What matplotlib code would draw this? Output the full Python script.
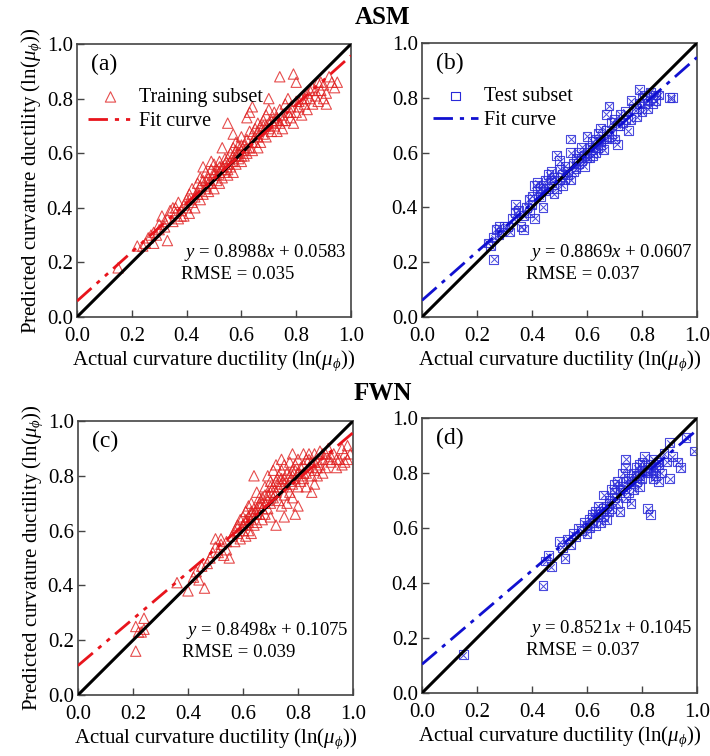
import numpy as np
import matplotlib
matplotlib.use('Agg')
import matplotlib.pyplot as plt

plt.rcParams['font.family'] = ['Liberation Serif', 'DejaVu Serif']
plt.rcParams['mathtext.fontset'] = 'custom'
plt.rcParams['mathtext.rm'] = 'Liberation Serif'
plt.rcParams['mathtext.it'] = 'Liberation Serif:italic'

# ASM, training subset (a)
asm_train_x = [0.15, 0.22, 0.24, 0.25, 0.26, 0.27, 0.28, 0.28, 0.29, 0.30, 0.31, 0.32, 0.33, 0.33, 0.34,
               0.35, 0.35, 0.36, 0.37, 0.37, 0.38, 0.39, 0.39, 0.40, 0.40, 0.41, 0.41, 0.42, 0.42, 0.43,
               0.43, 0.44, 0.44, 0.45, 0.45, 0.46, 0.46, 0.47, 0.47, 0.47, 0.48, 0.48, 0.49, 0.49, 0.50,
               0.50, 0.50, 0.51, 0.51, 0.52, 0.52, 0.52, 0.53, 0.53, 0.54, 0.54, 0.55, 0.55, 0.55, 0.56,
               0.56, 0.57, 0.57, 0.57, 0.58, 0.58, 0.59, 0.59, 0.60, 0.60, 0.60, 0.61, 0.61, 0.62, 0.62,
               0.63, 0.63, 0.64, 0.64, 0.64, 0.65, 0.65, 0.66, 0.66, 0.67, 0.67, 0.68, 0.68, 0.69, 0.69,
               0.70, 0.70, 0.71, 0.71, 0.72, 0.72, 0.73, 0.73, 0.74, 0.74, 0.74, 0.75, 0.75, 0.76, 0.76,
               0.77, 0.77, 0.78, 0.78, 0.79, 0.79, 0.80, 0.80, 0.80, 0.81, 0.82, 0.82, 0.83, 0.84, 0.84,
               0.85, 0.86, 0.86, 0.87, 0.88, 0.88, 0.89, 0.90, 0.90, 0.91, 0.91, 0.92, 0.93, 0.94, 0.95,
               0.53, 0.57, 0.62, 0.49, 0.45, 0.58, 0.66, 0.70,
               0.30, 0.32, 0.36, 0.38, 0.41, 0.44, 0.46, 0.48, 0.50, 0.51, 0.52, 0.53, 0.54, 0.55, 0.56,
               0.57, 0.58, 0.59, 0.60, 0.61, 0.62, 0.63, 0.65, 0.66, 0.68, 0.70, 0.72, 0.75, 0.78, 0.81,
               0.83, 0.85, 0.87, 0.89, 0.47, 0.55, 0.60, 0.64, 0.69, 0.73]
asm_train_y = [0.18, 0.26, 0.26, 0.27, 0.29, 0.30, 0.27, 0.31, 0.30, 0.34, 0.37, 0.33, 0.28, 0.36, 0.39,
               0.35, 0.40, 0.38, 0.36, 0.42, 0.39, 0.41, 0.37, 0.43, 0.40, 0.45, 0.38, 0.42, 0.47, 0.44,
               0.40, 0.46, 0.49, 0.43, 0.48, 0.55, 0.45, 0.50, 0.47, 0.53, 0.46, 0.51, 0.49, 0.54, 0.52,
               0.47, 0.56, 0.50, 0.54, 0.53, 0.57, 0.49, 0.55, 0.51, 0.58, 0.53, 0.56, 0.71, 0.52, 0.60,
               0.55, 0.57, 0.62, 0.53, 0.59, 0.56, 0.63, 0.58, 0.61, 0.57, 0.66, 0.63, 0.59, 0.65, 0.60,
               0.75, 0.62, 0.67, 0.61, 0.77, 0.64, 0.69, 0.66, 0.62, 0.70, 0.64, 0.67, 0.72, 0.66, 0.74,
               0.80, 0.69, 0.72, 0.68, 0.75, 0.70, 0.73, 0.68, 0.88, 0.76, 0.71, 0.74, 0.69, 0.78, 0.72,
               0.75, 0.80, 0.73, 0.77, 0.89, 0.71, 0.86, 0.79, 0.75, 0.77, 0.80, 0.74, 0.78, 0.82, 0.76,
               0.80, 0.84, 0.78, 0.81, 0.86, 0.79, 0.83, 0.85, 0.80, 0.78, 0.82, 0.88, 0.86, 0.84, 0.86,
               0.62, 0.67, 0.73, 0.57, 0.51, 0.64, 0.71, 0.76,
               0.32, 0.35, 0.40, 0.37, 0.43, 0.45, 0.50, 0.49, 0.53, 0.52, 0.55, 0.54, 0.56, 0.54, 0.57,
               0.59, 0.61, 0.60, 0.63, 0.61, 0.62, 0.68, 0.66, 0.68, 0.70, 0.71, 0.72, 0.72, 0.75, 0.79,
               0.80, 0.83, 0.83, 0.86, 0.48, 0.58, 0.59, 0.64, 0.70, 0.72]

# ASM, test subset (b)
asm_test_x = [0.24, 0.25, 0.26, 0.26, 0.27, 0.28, 0.28, 0.29, 0.30, 0.31, 0.32, 0.33, 0.34, 0.34, 0.35,
              0.36, 0.37, 0.37, 0.38, 0.39, 0.39, 0.40, 0.40, 0.41, 0.41, 0.42, 0.42, 0.43, 0.44, 0.44,
              0.45, 0.45, 0.46, 0.46, 0.47, 0.47, 0.48, 0.48, 0.49, 0.49, 0.50, 0.50, 0.51, 0.51, 0.52,
              0.52, 0.53, 0.54, 0.54, 0.54, 0.55, 0.55, 0.56, 0.56, 0.57, 0.57, 0.58, 0.58, 0.59, 0.59,
              0.60, 0.60, 0.61, 0.61, 0.62, 0.62, 0.63, 0.63, 0.64, 0.64, 0.65, 0.65, 0.66, 0.66, 0.67,
              0.67, 0.68, 0.68, 0.69, 0.70, 0.70, 0.71, 0.72, 0.72, 0.73, 0.74, 0.75, 0.76, 0.76, 0.77,
              0.78, 0.79, 0.79, 0.80, 0.80, 0.81, 0.82, 0.82, 0.83, 0.84, 0.85, 0.86, 0.90, 0.91,
              0.43, 0.47, 0.50, 0.53, 0.56, 0.58, 0.60, 0.62, 0.63, 0.65, 0.67, 0.69, 0.71, 0.74, 0.78,
              0.81, 0.84, 0.85]
asm_test_y = [0.27, 0.26, 0.21, 0.29, 0.32, 0.33, 0.30, 0.31, 0.33, 0.33, 0.31, 0.36, 0.41, 0.38, 0.39,
              0.33, 0.32, 0.37, 0.40, 0.43, 0.38, 0.44, 0.41, 0.48, 0.36, 0.46, 0.49, 0.44, 0.40, 0.48,
              0.46, 0.50, 0.47, 0.52, 0.53, 0.49, 0.45, 0.51, 0.59, 0.47, 0.57, 0.50, 0.52, 0.48, 0.55,
              0.50, 0.53, 0.65, 0.60, 0.50, 0.56, 0.53, 0.58, 0.54, 0.60, 0.56, 0.57, 0.62, 0.59, 0.55,
              0.66, 0.60, 0.58, 0.62, 0.61, 0.64, 0.65, 0.60, 0.62, 0.67, 0.63, 0.69, 0.65, 0.61, 0.74,
              0.68, 0.77, 0.66, 0.71, 0.65, 0.72, 0.63, 0.74, 0.70, 0.71, 0.75, 0.68, 0.79, 0.72, 0.76,
              0.73, 0.83, 0.78, 0.75, 0.80, 0.81, 0.79, 0.76, 0.82, 0.80, 0.81, 0.81, 0.80, 0.80,
              0.47, 0.50, 0.54, 0.52, 0.55, 0.58, 0.58, 0.59, 0.62, 0.64, 0.65, 0.67, 0.70, 0.72, 0.76,
              0.78, 0.78, 0.79]

# FWN, training subset (c)
fwn_train_x = [0.21, 0.21, 0.22, 0.23, 0.24, 0.24, 0.36, 0.40, 0.42, 0.43, 0.44, 0.45, 0.46, 0.47, 0.48,
               0.49, 0.50, 0.50, 0.51, 0.52, 0.52, 0.53, 0.54, 0.54, 0.55, 0.56, 0.57, 0.57, 0.58, 0.58,
               0.59, 0.59, 0.60, 0.60, 0.60, 0.61, 0.61, 0.61, 0.62, 0.62, 0.62, 0.63, 0.63, 0.63, 0.64,
               0.64, 0.64, 0.65, 0.65, 0.65, 0.66, 0.66, 0.67, 0.67, 0.67, 0.68, 0.68, 0.68, 0.69, 0.69,
               0.69, 0.70, 0.70, 0.70, 0.70, 0.71, 0.71, 0.71, 0.72, 0.72, 0.72, 0.72, 0.73, 0.73, 0.73,
               0.74, 0.74, 0.74, 0.74, 0.75, 0.75, 0.75, 0.75, 0.76, 0.76, 0.76, 0.77, 0.77, 0.77, 0.78,
               0.78, 0.78, 0.78, 0.79, 0.79, 0.79, 0.80, 0.80, 0.80, 0.80, 0.81, 0.81, 0.82, 0.82, 0.82,
               0.83, 0.83, 0.83, 0.84, 0.84, 0.85, 0.85, 0.85, 0.86, 0.86, 0.86, 0.87, 0.87, 0.88, 0.88,
               0.89, 0.89, 0.90, 0.90, 0.91, 0.91, 0.92, 0.93, 0.94, 0.95, 0.96, 0.96, 0.97, 0.98, 0.98,
               0.99,
               0.58, 0.60, 0.61, 0.62, 0.63, 0.64, 0.65, 0.66, 0.67, 0.68, 0.69, 0.71, 0.73, 0.75, 0.77,
               0.79, 0.81, 0.84, 0.87, 0.89, 0.92, 0.94, 0.97, 0.63, 0.66, 0.70, 0.74, 0.78, 0.82, 0.86]
fwn_train_y = [0.25, 0.16, 0.23, 0.23, 0.28, 0.24, 0.41, 0.38, 0.43, 0.45, 0.42, 0.47, 0.39, 0.48, 0.50,
               0.52, 0.54, 0.57, 0.52, 0.55, 0.57, 0.51, 0.53, 0.56, 0.50, 0.58, 0.60, 0.56, 0.62, 0.59,
               0.57, 0.64, 0.60, 0.65, 0.62, 0.58, 0.67, 0.63, 0.60, 0.69, 0.65, 0.64, 0.59, 0.70, 0.80,
               0.66, 0.62, 0.74, 0.68, 0.63, 0.70, 0.66, 0.72, 0.68, 0.64, 0.76, 0.70, 0.66, 0.80, 0.73,
               0.68, 0.78, 0.74, 0.70, 0.65, 0.82, 0.76, 0.72, 0.84, 0.78, 0.74, 0.62, 0.80, 0.76, 0.71,
               0.86, 0.82, 0.77, 0.69, 0.84, 0.79, 0.73, 0.65, 0.81, 0.76, 0.70, 0.85, 0.80, 0.74, 0.88,
               0.82, 0.77, 0.72, 0.84, 0.79, 0.66, 0.86, 0.81, 0.76, 0.69, 0.83, 0.78, 0.88, 0.84, 0.79,
               0.86, 0.81, 0.76, 0.88, 0.83, 0.85, 0.80, 0.74, 0.88, 0.82, 0.77, 0.85, 0.80, 0.89, 0.84,
               0.86, 0.81, 0.88, 0.83, 0.86, 0.90, 0.85, 0.88, 0.83, 0.86, 0.90, 0.84, 0.88, 0.91, 0.86,
               0.88,
               0.61, 0.62, 0.64, 0.63, 0.67, 0.68, 0.66, 0.69, 0.70, 0.73, 0.71, 0.74, 0.78, 0.77, 0.78,
               0.82, 0.80, 0.86, 0.83, 0.88, 0.87, 0.86, 0.85, 0.66, 0.72, 0.76, 0.79, 0.80, 0.81, 0.85]

# FWN, test subset (d)
fwn_test_x = [0.15, 0.44, 0.45, 0.46, 0.47, 0.50, 0.51, 0.52, 0.53, 0.54, 0.55, 0.56, 0.57, 0.58, 0.59,
              0.60, 0.60, 0.61, 0.61, 0.62, 0.62, 0.63, 0.63, 0.64, 0.64, 0.65, 0.65, 0.66, 0.66, 0.67,
              0.67, 0.68, 0.68, 0.69, 0.69, 0.70, 0.70, 0.71, 0.71, 0.72, 0.72, 0.73, 0.73, 0.74, 0.74,
              0.74, 0.75, 0.75, 0.76, 0.76, 0.77, 0.77, 0.78, 0.78, 0.79, 0.79, 0.80, 0.80, 0.81, 0.81,
              0.82, 0.82, 0.83, 0.83, 0.84, 0.84, 0.85, 0.85, 0.86, 0.86, 0.87, 0.88, 0.89, 0.90, 0.90,
              0.91, 0.93, 0.94, 0.96, 0.99,
              0.62, 0.64, 0.66, 0.68, 0.70, 0.72, 0.74, 0.76, 0.78, 0.80, 0.82, 0.84, 0.86, 0.79, 0.83]
fwn_test_y = [0.14, 0.39, 0.48, 0.50, 0.46, 0.55, 0.53, 0.49, 0.56, 0.54, 0.58, 0.57, 0.60, 0.59, 0.62,
              0.61, 0.58, 0.63, 0.60, 0.65, 0.62, 0.66, 0.61, 0.64, 0.68, 0.62, 0.66, 0.72, 0.64, 0.68,
              0.63, 0.70, 0.66, 0.74, 0.67, 0.71, 0.76, 0.69, 0.77, 0.73, 0.66, 0.80, 0.75, 0.85, 0.82,
              0.71, 0.78, 0.73, 0.76, 0.69, 0.80, 0.74, 0.77, 0.82, 0.79, 0.75, 0.84, 0.78, 0.81, 0.86,
              0.80, 0.67, 0.83, 0.65, 0.78, 0.85, 0.82, 0.79, 0.77, 0.84, 0.80, 0.87, 0.84, 0.91, 0.78,
              0.86, 0.84, 0.82, 0.93, 0.88,
              0.64, 0.65, 0.67, 0.69, 0.73, 0.74, 0.77, 0.78, 0.79, 0.81, 0.82, 0.81, 0.83, 0.83, 0.80]

fits = [(0.8988, 0.0583, 0.035), (0.8869, 0.0607, 0.037), (0.8498, 0.1075, 0.039), (0.8521, 0.1045, 0.037)]

W, H = 710, 756
fig = plt.figure(figsize=(W / 100, H / 100), dpi=100)

def px_axes(l, t, r, b):
    return fig.add_axes([l / W, 1 - b / H, (r - l) / W, (b - t) / H])

boxes = [(77, 44, 351, 317), (422, 43, 697, 317), (78, 421, 353, 695), (422, 418, 697, 693)]
panels = [(asm_train_x, asm_train_y, 'train', '(a)'),
          (asm_test_x, asm_test_y, 'test', '(b)'),
          (fwn_train_x, fwn_train_y, 'train', '(c)'),
          (fwn_test_x, fwn_test_y, 'test', '(d)')]

red_ls = (0, (7, 2.5, 1.5, 2.5, 1.5, 2.5))
blue_ls = (0, (7, 2.5, 1.5, 2.5))
xx = np.array([0.0, 1.0])
ticks = np.arange(0, 1.01, 0.2)

for i in range(4):
    ax = px_axes(*boxes[i])
    x, y, kind, tag = panels[i]
    k, b, rmse = fits[i]
    ax.plot(xx, xx, color='black', lw=2.2, zorder=3)
    if kind == 'train':
        h1 = ax.scatter(x, y, marker='^', s=55, facecolors='none', edgecolors='#e02020',
                        linewidths=0.8, alpha=0.8, zorder=2)
        h2, = ax.plot(xx, k * xx + b, color='#e8141c', lw=2, ls=red_ls, zorder=4)
        lab = 'Training subset'
    else:
        ax.scatter(x, y, marker='s', s=40, facecolors='none', edgecolors='#2a2ad8',
                   linewidths=0.8, alpha=0.85, zorder=2)
        ax.scatter(x, y, marker='x', s=22, color='#2a2ad8', linewidths=0.7, alpha=0.85, zorder=2)
        h1 = ax.scatter([], [], marker='s', s=40, facecolors='none', edgecolors='#2a2ad8', linewidths=0.8)
        h2, = ax.plot(xx, k * xx + b, color='#1010d0', lw=2, ls=blue_ls, zorder=4)
        lab = 'Test subset'
    if i < 2:
        ax.legend([h1, h2], [lab, 'Fit curve'], loc='upper left', bbox_to_anchor=(-0.01, 0.89),
                  frameon=False, fontsize=14.5, handlelength=2.2, handletextpad=0.3,
                  labelspacing=0.25, borderpad=0.2)
    ax.text(0.05, 0.965, tag, transform=ax.transAxes, fontsize=17, va='top', ha='left')
    ax.text(0.985, 0.235, r'$y$ = %.4f$x$ + %.4f' % (k, b), transform=ax.transAxes,
            fontsize=13.5, ha='right', va='center')
    ax.text(0.38, 0.155, 'RMSE = %.3f' % rmse, transform=ax.transAxes,
            fontsize=13.5, ha='left', va='center')
    ax.set_xlim(0, 1)
    ax.set_ylim(0, 1)
    ax.set_xticks(ticks)
    ax.set_yticks(ticks)
    ax.set_xticklabels(['%.1f' % v for v in ticks])
    ax.set_yticklabels(['%.1f' % v for v in ticks])
    ax.tick_params(direction='in', labelsize=15, length=5, width=1, colors='#444444',
                   labelcolor='black')
    ax.tick_params(axis='x', pad=7)
    ax.tick_params(axis='y', pad=3)
    for s in ax.spines.values():
        s.set_color('#444444')
        s.set_linewidth(1.2)
    ax.set_xlabel(r'Actual curvature ductility (ln($\mu_{\phi}$))', fontsize=15, labelpad=2)
    if i % 2 == 0:
        ax.set_ylabel(r'Predicted curvature ductility (ln($\mu_{\phi}$))', fontsize=15, labelpad=2)

fig.text(383 / W, 1 - 18 / H, 'ASM', fontsize=18, fontweight='bold', ha='center', va='center')
fig.text(383 / W, 1 - 393 / H, 'FWN', fontsize=18, fontweight='bold', ha='center', va='center')

fig.savefig('out.png', dpi=100)
